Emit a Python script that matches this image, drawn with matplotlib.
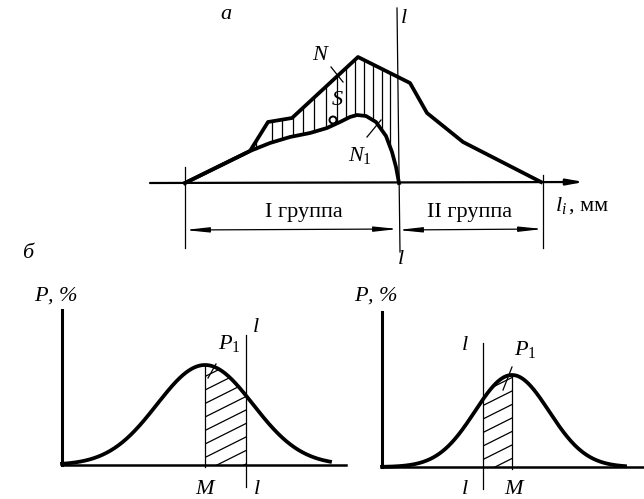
import numpy as np
import matplotlib.pyplot as plt
from matplotlib.patches import Polygon, Circle

SERIF = 'Liberation Serif'
plt.rcParams['mathtext.fontset'] = 'custom'
plt.rcParams['mathtext.it'] = 'Liberation Serif:italic'
plt.rcParams['mathtext.rm'] = 'Liberation Serif'

# ---- part "a": size profile of the heap along l_i ----
upper_x = [185, 250, 268, 292, 358, 410, 427, 463, 541]
upper_y = [183, 151, 122, 118, 57, 83, 113, 142, 182]
lower_x = [185, 250, 270, 290, 310, 327, 340, 350, 357, 366, 376, 386, 392, 396, 399]
lower_y = [183, 151, 143, 137, 133, 128, 122, 117, 115, 116, 122, 136, 152, 167, 183]
hatch_x = [256, 272, 282, 293, 303, 314, 326, 337, 346, 355, 364, 373, 382, 390]
split_x = 398
left_end, right_end = 185, 543
group_labels = ['I группа', 'II группа']

# ---- part "б": two normal distributions ----
left_mean, left_sigma, left_peak = 205, 48, 100
left_base, left_y0, left_line = 465, 62, 246
right_mean, right_sigma, right_peak = 512, 37, 92
right_base, right_y0, right_line = 467, 382, 483

thick = 2.7
thin = 0.9


def bell(x, mean, sigma, peak, base):
    return base - peak * np.exp(-0.5 * ((x - mean) / sigma) ** 2)


def hatch_region(ax, xs, ys_top, base, spacing=13.5, slope=0.5):
    # diagonal hatching clipped to the area under the curve
    verts = list(zip(xs, ys_top)) + [(xs[-1], base), (xs[0], base)]
    clip = Polygon(verts, closed=True, facecolor='none', edgecolor='none')
    ax.add_patch(clip)
    x0, x1 = xs[0], xs[-1]
    for c in np.arange(-60, 160, spacing):
        yy0 = base - c
        yy1 = base - c - slope * (x1 - x0)
        ln, = ax.plot([x0, x1], [yy0, yy1], color='black', lw=thin)
        ln.set_clip_path(clip)


fig = plt.figure(figsize=(6.44, 4.99), dpi=100)
ax = fig.add_axes([0, 0, 1, 1])
ax.set_xlim(0, 644)
ax.set_ylim(499, 0)
ax.axis('off')

# ---- a ----
ax.annotate('', xy=(584, 182), xytext=(150, 183),
            arrowprops=dict(arrowstyle='-|>,head_length=1.0,head_width=0.18',
                            color='black', lw=1.6, shrinkA=0, shrinkB=0))
ax.plot(upper_x, upper_y, color='black', lw=thick, solid_joinstyle='round')
ax.plot(lower_x, lower_y, color='black', lw=thick, solid_joinstyle='round')
for hx in hatch_x:
    y_top = np.interp(hx, upper_x, upper_y)
    y_bot = np.interp(hx, lower_x, lower_y)
    ax.plot([hx, hx], [y_top, y_bot], color='black', lw=thin)
ax.add_patch(Circle((333, 120), 3.5, facecolor='white', edgecolor='black', lw=1.4))

ax.plot([397, 400], [8, 252], color='black', lw=thin)
ax.plot([left_end, left_end], [167, 248], color='black', lw=thin)
ax.plot([right_end, right_end], [175, 248], color='black', lw=thin)
for xa, xb in [(left_end, split_x), (split_x, right_end)]:
    ax.annotate('', xy=(xa, 230), xytext=(xb, 229),
                arrowprops=dict(arrowstyle='<|-|>,head_length=1.4,head_width=0.15',
                                color='black', lw=0.9, shrinkA=0, shrinkB=0))

ax.plot([331, 343], [67, 82], color='black', lw=thin)
ax.plot([367, 381], [137, 120], color='black', lw=thin)

it = dict(family=SERIF, style='italic', fontsize=16, color='black')
up = dict(family=SERIF, fontsize=16, color='black')
ax.text(226, 14, 'a', ha='center', va='center', **it)
ax.text(404, 18, 'l', ha='center', va='center', **it)
ax.text(401, 259, 'l', ha='center', va='center', **it)
ax.text(320, 55, 'N', ha='center', va='center', **it)
ax.text(337, 100, 'S', ha='center', va='center', **it)
ax.text(360, 156, r'$N_1$', ha='center', va='center', **it)
ax.text(304, 213, group_labels[0], ha='center', va='center', **up)
ax.text(470, 213, group_labels[1], ha='center', va='center', **up)
ax.text(555, 206, r'$l_i$', ha='left', va='center', **it)
ax.text(569, 206, ', мм', ha='left', va='center', **up)

# ---- б ----
ax.text(28, 253, 'б', ha='center', va='center', **it)

panels = [
    (left_mean, left_sigma, left_peak, left_base, left_y0, 346, left_line,
     (left_mean, left_line), 330),
    (right_mean, right_sigma, right_peak, right_base, right_y0, 644, right_line,
     (right_line, right_mean), 625),
]
for mean, sigma, peak, base, x0, x_end, lx, (h0, h1), tail in panels:
    ax.plot([x0, x0], [base - 155, base], color='black', lw=2.2)
    ax.plot([x0, x_end], [base, base], color='black', lw=1.8)
    xs = np.linspace(x0, tail, 400)
    ax.plot(xs, bell(xs, mean, sigma, peak, base), color='black', lw=thick)
    hx = np.linspace(h0, h1, 60)
    hatch_region(ax, hx, bell(hx, mean, sigma, peak, base), base)
    ax.plot([mean, mean], [bell(mean, mean, sigma, peak, base), base + 2],
            color='black', lw=thin)
    ax.plot([lx, lx], [base - 130 if lx > mean else base - 124, base + 22],
            color='black', lw=thin)
    ax.text(x0 - 28, 296, r'$P$, %', ha='left', va='center', **it)

ax.text(205, 489, 'M', ha='center', va='center', **it)
ax.text(257, 489, 'l', ha='center', va='center', **it)
ax.text(256, 328, 'l', ha='center', va='center', **it)
ax.text(229, 344, r'$P_1$', ha='center', va='center', **it)
ax.plot([208, 216], [378, 364], color='black', lw=thin)

ax.text(514, 489, 'M', ha='center', va='center', **it)
ax.text(465, 489, 'l', ha='center', va='center', **it)
ax.text(465, 345, 'l', ha='center', va='center', **it)
ax.text(525, 350, r'$P_1$', ha='center', va='center', **it)
ax.plot([503, 512], [390, 367], color='black', lw=thin)

fig.savefig('out.png', dpi=100)
